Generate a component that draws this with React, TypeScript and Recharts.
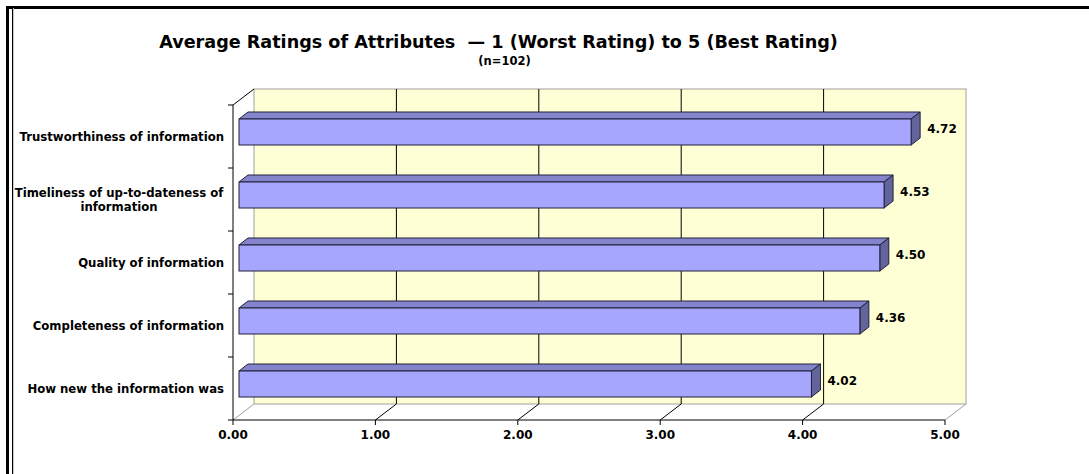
import { Bar, BarChart, LabelList, ReferenceArea, XAxis, YAxis } from 'recharts'

const attributes = [
  'Trustworthiness of information',
  'Timeliness of up-to-dateness of\ninformation',
  'Quality of information',
  'Completeness of information',
  'How new the information was',
]
const ratings = [4.72, 4.53, 4.5, 4.36, 4.02]
const xTicks = [0, 1, 2, 3, 4, 5]

const FONT = '"DejaVu Sans", Verdana, sans-serif'
// 3D depth of the plot box and offset of the bars inside it
const DEPTH_X = 21
const DEPTH_Y = 16
const BAR_DX = 6
const BAR_DY = 5
const BAR_DEPTH_X = 9
const BAR_DEPTH_Y = 7

const data = attributes.map((name, i) => ({ name, value: ratings[i] }))

function Walls(props: any) {
  const { x, y, width, height } = props
  const max = xTicks[xTicks.length - 1]
  const bx = x + DEPTH_X
  const by = y - DEPTH_Y
  return (
    <g>
      <polygon
        points={`${x},${y + height} ${bx},${by + height} ${bx + width},${by + height} ${x + width},${y + height}`}
        fill="#ffffff"
      />
      <rect x={bx} y={by} width={width} height={height} fill="#ffffd5" stroke="#a0a0a0" />
      <line x1={x} y1={y} x2={bx} y2={by} stroke="#000" />
      {xTicks.map((t) => {
        const gx = x + (width * t) / max
        const edge = t === 0 || t === max
        const c = edge ? '#a0a0a0' : '#000'
        return (
          <g key={t}>
            {!edge && <line x1={gx + DEPTH_X} y1={by} x2={gx + DEPTH_X} y2={by + height} stroke={c} />}
            <line x1={gx + DEPTH_X} y1={by + height} x2={gx} y2={y + height} stroke={c} />
          </g>
        )
      })}
    </g>
  )
}

function Box3D(props: any) {
  const { x, y, width, height } = props
  const fx = x + BAR_DX
  const fy = y - BAR_DY
  const r = fx + width
  return (
    <g stroke="#20203a" strokeWidth={1}>
      <polygon
        points={`${fx},${fy} ${fx + BAR_DEPTH_X},${fy - BAR_DEPTH_Y} ${r + BAR_DEPTH_X},${fy - BAR_DEPTH_Y} ${r},${fy}`}
        fill="#8484cc"
      />
      <polygon
        points={`${r},${fy} ${r + BAR_DEPTH_X},${fy - BAR_DEPTH_Y} ${r + BAR_DEPTH_X},${fy + height - BAR_DEPTH_Y} ${r},${fy + height}`}
        fill="#64649c"
      />
      <rect x={fx} y={fy} width={width} height={height} fill="#a6a6ff" />
    </g>
  )
}

function ValueLabel(props: any) {
  const { x, y, width, height, value } = props
  return (
    <text
      x={x + width + BAR_DX + BAR_DEPTH_X + 7}
      y={y + height / 2 - 8}
      dominantBaseline="central"
      fontFamily={FONT}
      fontWeight="bold"
      fontSize={12}
      fill="#000"
    >
      {Number(value).toFixed(2)}
    </text>
  )
}

function CategoryTick(props: any) {
  const { x, y, payload, index } = props
  const half = payload?.offset ?? 31.5
  const axisX = x + 9
  const lines = String(payload.value).split('\n')
  return (
    <g>
      <line x1={axisX - 5} y1={y - half} x2={axisX} y2={y - half} stroke="#000" />
      {index === attributes.length - 1 && (
        <line x1={axisX - 5} y1={y + half} x2={axisX} y2={y + half} stroke="#000" />
      )}
      {lines.length === 1 ? (
        <text x={x} y={y} textAnchor="end" dominantBaseline="central" fontFamily={FONT} fontWeight="bold" fontSize={11.7} fill="#000">
          {lines[0]}
        </text>
      ) : (
        <text x={x - 105} textAnchor="middle" fontFamily={FONT} fontWeight="bold" fontSize={11.7} fill="#000">
          {lines.map((l, i) => (
            <tspan key={i} x={x - 105} y={y - 7 + i * 14} dominantBaseline="central">
              {l}
            </tspan>
          ))}
        </text>
      )}
    </g>
  )
}

export default function App() {
  return (
    <div style={{ position: 'absolute', left: 0, top: 0, width: 1089, height: 474, background: '#fff', overflow: 'hidden' }}>
      <div style={{ position: 'absolute', left: 6, top: 6, width: 1083, height: 3, background: '#000' }} />
      <div style={{ position: 'absolute', left: 6, top: 6, width: 3, height: 468, background: '#000' }} />
      <div style={{ position: 'absolute', left: 12, top: 8, width: 1, height: 466, background: '#000' }} />
      <div style={{ position: 'absolute', left: 13, top: 8, width: 1, height: 466, background: '#c8c8c8' }} />
      <div
        style={{
          position: 'absolute',
          left: 0,
          width: 997,
          top: 32,
          textAlign: 'center',
          fontFamily: FONT,
          fontWeight: 'bold',
          fontSize: 17.6,
          lineHeight: '20px',
          whiteSpace: 'pre',
        }}
      >
        Average Ratings of Attributes  — 1 (Worst Rating) to 5 (Best Rating)
      </div>
      <div
        style={{
          position: 'absolute',
          left: 0,
          width: 1009,
          top: 54,
          textAlign: 'center',
          fontFamily: FONT,
          fontWeight: 'bold',
          fontSize: 11.5,
          lineHeight: '14px',
        }}
      >
        (n=102)
      </div>
      <div style={{ position: 'absolute', left: 0, top: 0 }}>
        <BarChart
          width={1089}
          height={474}
          data={data}
          layout="vertical"
          margin={{ top: 105, right: 144, bottom: 24, left: 8 }}
        >
          <XAxis
            type="number"
            domain={[0, 5]}
            ticks={xTicks}
            height={30}
            tickFormatter={(v) => Number(v).toFixed(2)}
            axisLine={{ stroke: '#000' }}
            tickLine={{ stroke: '#000' }}
            tickSize={5}
            tickMargin={5}
            tick={{ fill: '#000', fontFamily: FONT, fontWeight: 'bold', fontSize: 12 }}
          />
          <YAxis
            type="category"
            dataKey="name"
            width={225}
            axisLine={{ stroke: '#000' }}
            tickLine={false}
            tickSize={5}
            tickMargin={4}
            interval={0}
            tick={<CategoryTick />}
          />
          <ReferenceArea x1={0} x2={5} shape={<Walls />} />
          <Bar dataKey="value" barSize={26} shape={<Box3D />} isAnimationActive={false}>
            <LabelList dataKey="value" content={<ValueLabel />} />
          </Bar>
        </BarChart>
      </div>
    </div>
  )
}
